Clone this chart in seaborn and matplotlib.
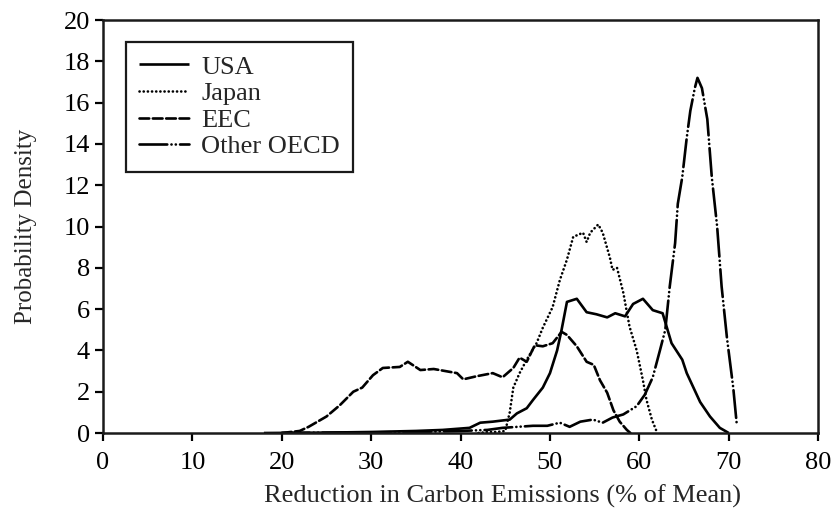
import matplotlib
matplotlib.use("Agg")
import matplotlib.pyplot as plt
import seaborn as sns
import pandas as pd

# Probability density of the required reduction in carbon emissions, by region
usa_x = [18, 25, 30, 35, 38, 41, 42.2, 43.6, 45.5, 46.3, 47.4, 48.1, 49.2, 50.0, 50.8,
         51.3, 51.9, 53.0, 54.1, 55.2, 56.4, 57.3, 58.4, 59.3, 60.4, 61.5, 62.6, 63.6,
         64.8, 65.3, 66.8, 67.9, 69.0, 70.0]
usa_y = [0.0, 0.02, 0.05, 0.1, 0.15, 0.25, 0.5, 0.55, 0.65, 0.95, 1.2, 1.6, 2.2, 2.9, 4.0,
         5.0, 6.35, 6.5, 5.85, 5.75, 5.6, 5.8, 5.65, 6.25, 6.5, 5.95, 5.8, 4.35,
         3.55, 2.9, 1.5, 0.8, 0.25, 0.0]

japan_x = [42, 43, 44, 45, 45.5, 45.9, 46.6, 47.4, 48.5, 49.2, 50.3, 51.1, 51.9, 52.6,
           53.7, 54.1, 54.5, 55.4, 55.9, 56.7, 57.0, 57.5, 58.2, 58.9, 59.7, 60.4,
           60.8, 61.4, 62.0]
japan_y = [0.0, 0.05, 0.05, 0.1, 1.0, 2.2, 2.9, 3.55, 4.35, 5.1, 6.1, 7.4, 8.4, 9.5,
           9.7, 9.25, 9.7, 10.1, 9.7, 8.5, 7.9, 8.0, 6.8, 5.15, 4.0, 2.55,
           1.6, 0.65, 0.0]

eec_x = [20, 21, 22, 23, 25, 26.5, 28, 29, 30.2, 31.3, 33.2, 34.1, 35.5, 37.0, 39.6,
         40.3, 41.8, 43.6, 44.7, 45.9, 46.6, 47.4, 48.3, 49.2, 50.3, 51.3, 51.9,
         53.0, 54.1, 54.9, 55.6, 56.4, 57.1, 57.8, 58.6, 59.0]
eec_y = [0.0, 0.05, 0.1, 0.3, 0.8, 1.35, 2.0, 2.2, 2.8, 3.15, 3.2, 3.45, 3.05, 3.1, 2.9,
         2.6, 2.75, 2.9, 2.7, 3.15, 3.65, 3.45, 4.25, 4.2, 4.35, 4.9, 4.75,
         4.2, 3.45, 3.3, 2.55, 1.95, 1.1, 0.55, 0.15, 0.0]

oecd_x = [20, 25, 30, 35, 40, 43, 44.7, 48.1, 49.7, 51.1, 52.2, 53.4, 54.8, 55.9, 57.0,
          58.2, 59.7, 60.6, 61.5, 62.3, 62.9, 63.4, 64.0, 64.3, 64.8, 65.3, 65.7,
          66.2, 66.5, 67.0, 67.6, 68.1, 68.7, 69.2, 69.8, 70.5, 70.9]
oecd_y = [0.0, 0.02, 0.03, 0.05, 0.1, 0.15, 0.25, 0.35, 0.35, 0.5, 0.3, 0.55, 0.65, 0.5, 0.75,
          0.9, 1.3, 1.85, 2.7, 4.0, 5.0, 7.1, 9.2, 11.1, 12.4, 14.3, 15.6,
          16.7, 17.2, 16.7, 15.2, 12.4, 10.0, 7.1, 4.6, 2.2, 0.4]

series_names = ["USA", "Japan", "EEC", "Other OECD"]
x_ticks = list(range(0, 81, 10))
y_ticks = list(range(0, 21, 2))

sns.set_style("ticks")
plt.rcParams["font.family"] = ["Liberation Serif", "DejaVu Serif"]
plt.rcParams["lines.scale_dashes"] = False

fig = plt.figure(figsize=(8.34, 5.08), dpi=100)
ax = fig.add_axes([0.1235, 0.1476, 0.8575, 0.813])

styles = {
    "USA": "-",
    "Japan": (0, (0.1, 2.9)),
    "EEC": (0, (7, 2.6)),
    "Other OECD": (0, (20, 3, 0.1, 3, 0.1, 3)),
}
data = {
    "USA": (usa_x, usa_y),
    "Japan": (japan_x, japan_y),
    "EEC": (eec_x, eec_y),
    "Other OECD": (oecd_x, oecd_y),
}

handles = []
for name in series_names:
    xs, ys = data[name]
    df = pd.DataFrame({"x": xs, "y": ys})
    before = len(ax.lines)
    sns.lineplot(data=df, x="x", y="y", ax=ax, color="black", linewidth=1.9,
                 linestyle=styles[name], estimator=None, sort=False,
                 dash_capstyle="round", solid_capstyle="butt")
    handles.append(ax.lines[before])

ax.set_xlim(0, 80)
ax.set_ylim(0, 20)
ax.set_xticks(x_ticks)
ax.set_yticks(y_ticks)
ax.set_xlabel("Reduction in Carbon Emissions (% of Mean)", fontsize=19, labelpad=7)
ax.xaxis.label.set_x(0.559)
ax.set_ylabel("Probability Density", fontsize=18, labelpad=19)
ax.tick_params(axis="both", direction="out", length=6, width=1.6, labelsize=19,
               colors="black")
ax.tick_params(axis="x", pad=8)
ax.tick_params(axis="y", pad=3.5)
for sp in ax.spines.values():
    sp.set_visible(True)
    sp.set_linewidth(1.8)
    sp.set_color("#1a1a1a")

leg = ax.legend(handles, series_names, loc="upper left",
                bbox_to_anchor=(0.032, 0.947), borderaxespad=0, fontsize=19,
                frameon=True, fancybox=False, shadow=False, handlelength=1.9,
                handletextpad=0.45, labelspacing=0.12, borderpad=0.5)
leg.get_frame().set_edgecolor("#1a1a1a")
leg.get_frame().set_linewidth(1.6)
leg.get_frame().set_alpha(1)

fig.savefig("out.png", dpi=100)
